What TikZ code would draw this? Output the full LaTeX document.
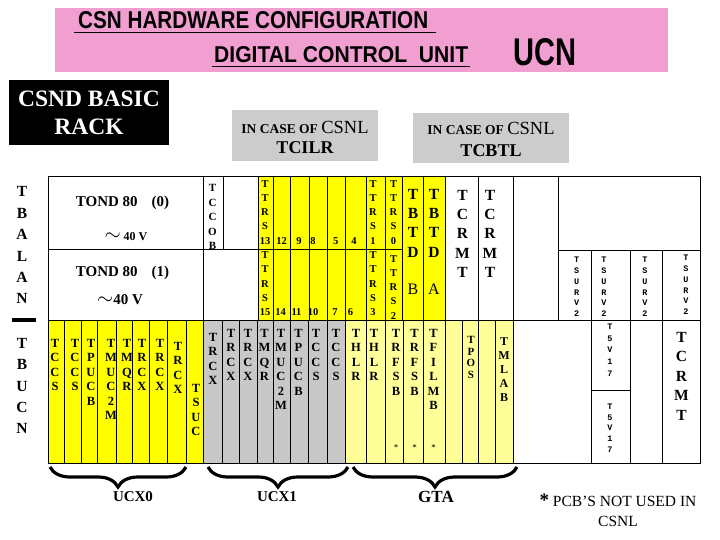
\documentclass[tikz,border=0pt]{standalone}
\usepackage{fontspec}
\usepackage{graphicx}
\setmainfont{Liberation Serif}
\newfontfamily\arialf{Liberation Sans}
\newfontfamily\monof{Liberation Mono}
\usetikzlibrary{decorations.pathreplacing}
\definecolor{pinkbg}{RGB}{241,158,208}
\definecolor{yel}{RGB}{255,255,0}
\definecolor{lyel}{RGB}{255,255,153}
\definecolor{grayc}{RGB}{200,200,200}
\definecolor{grayb}{RGB}{204,204,204}
\newcommand\fntA{\fontsize{12.5}{14.5}\selectfont\bfseries}
\newcommand\fntB{\fontsize{10.5}{14.3}\selectfont\bfseries}
\newcommand\fntC{\fontsize{15.5}{19.3}\selectfont\bfseries}
\newcommand\fntD{\fontsize{15.5}{21.4}\selectfont\bfseries}
\newcommand\fntM{\monof\fontsize{8.5}{10.8}\selectfont\bfseries}
\begin{document}
\begin{tikzpicture}[x=1pt,y=-1pt,
  cell/.style={draw=black, line width=0.8pt},
  stk/.style={align=center, inner sep=0pt, anchor=north},
  rA/.style={stk, font=\fntA},
  rB/.style={stk, font=\fntB},
  rC/.style={stk, font=\fntC},
  rD/.style={stk, font=\fntD},
  rM/.style={stk, font=\fntM},
  num/.style={inner sep=0pt, font=\fntB},
  bracestyle/.style={decorate, decoration={brace, mirror, amplitude=20pt}, line width=3.2pt},
  grplabel/.style={inner sep=0pt, font=\fontsize{15}{17}\selectfont\bfseries}
]
\useasboundingbox (0,0) rectangle (720,540);
\fill[white] (0,0) rectangle (720,540);

% banner
\fill[pinkbg] (55,8) rectangle (668,72);
\node[inner sep=0pt, anchor=south west] (title) at (78,29) {\resizebox{350pt}{17pt}{\arialf\bfseries CSN HARDWARE CONFIGURATION}};
\draw[line width=1.5pt] (74,32.5) -- (436,32.5);
\node[inner sep=0pt, anchor=south west] (dcu) at (214,63) {\resizebox{254pt}{16pt}{\arialf\bfseries DIGITAL CONTROL\ \ UNIT}};
\draw[line width=1.5pt] (212,66.5) -- (470,66.5);
\node[inner sep=0pt, anchor=south west] (ucn) at (513,66) {\resizebox{63pt}{27pt}{\arialf\bfseries UCN}};

% black box
\fill[black] (9,80) rectangle (169,145);
\node[inner sep=0pt, anchor=base, text=white, font=\fontsize{23.5}{25}\selectfont\bfseries] (rack1) at (89,107) {CSND BASIC};
\node[inner sep=0pt, anchor=base, text=white, font=\fontsize{23.5}{25}\selectfont\bfseries] (rack2) at (89,135) {RACK};

% gray boxes
\fill[grayb] (232,110) rectangle (378,160.7);
\fill[grayb] (413.3,112.7) rectangle (569,163.3);
\node[inner sep=0pt, anchor=base] (c1a) at (305,133.3) {{\fontsize{13.5}{15}\selectfont\bfseries IN CASE OF }{\fontsize{18.5}{20}\selectfont CSNL}};
\node[inner sep=0pt, anchor=base, font=\fontsize{18}{20}\selectfont\bfseries] (c1b) at (305,153.3) {TCILR};
\node[inner sep=0pt, anchor=base] (c2a) at (491,135) {{\fontsize{13.5}{15}\selectfont\bfseries IN CASE OF }{\fontsize{18.5}{20}\selectfont CSNL}};
\node[inner sep=0pt, anchor=base, font=\fontsize{18}{20}\selectfont\bfseries] (c2b) at (491,156.7) {TCBTL};

% fills of table
\fill[yel] (258.3,176.7) rectangle (445,320);
\fill[yel] (48,320) rectangle (203,463);
\fill[grayc] (203,320) rectangle (345.7,463);
\fill[lyel] (345.7,320) rectangle (513.3,463);

% grid
\draw[cell] (48,176.7) rectangle (700,463);
\draw[cell] (48,320) -- (700,320);
\draw[cell] (48,249) -- (402.3,249);
\draw[cell] (558.3,250) -- (700,250);
\foreach \x in {203,258.3,273.3,290,309,327.3,345.7,366.7,385,402.3,423.3,445,478.3,513.3,558.3}
  \draw[cell] (\x,176.7) -- (\x,320);
\draw[cell] (223.3,176.7) -- (223.3,249);
\foreach \x in {591.7,630,662}
  \draw[cell] (\x,250) -- (\x,320);
\foreach \x in {64.5,81.5,97,116.5,132.5,149.5,167.5,186,203,222.5,239,257,273.5,290.5,308,327,345.7,366.7,385,403,423.3,445,462.5,478.3,495,513.3,591.7,630,662}
  \draw[cell] (\x,320) -- (\x,463);
\draw[cell] (591.7,390) -- (630,390);

% left labels
\node[rD] (tbalan) at (22,186.5) {T\\B\\A\\L\\A\\N};
\fill[black] (12,318) rectangle (36,322);
\node[rD] (tbucn) at (22,338) {T\\B\\U\\C\\N};

% TOND
\node[inner sep=0pt, font=\fontsize{15}{18}\selectfont\bfseries] (tond0) at (122.5,203) {TOND 80\hspace{14pt}(0)};
\node[inner sep=0pt, font=\fontsize{12}{14}\selectfont\bfseries] (v0) at (126,237) {{\fontsize{21}{21}\selectfont$\sim$}\hspace{3pt}40 V};
\node[inner sep=0pt, font=\fontsize{15}{18}\selectfont\bfseries] (tond1) at (122.5,272.7) {TOND 80\hspace{14pt}(1)};
\node[inner sep=0pt, font=\fontsize{15}{18}\selectfont\bfseries] (v1) at (120,300) {{\fontsize{20}{20}\selectfont$\sim$}40 V};

% TCCOB
\node[stk, font=\fontsize{11}{14.5}\selectfont\bfseries] (tccob) at (212.5,184.5) {T\\C\\C\\O\\B};

% TTRS
\node[rB] (t13) at (265,180) {T\\T\\R\\S\\13};
\node[num] (n12) at (281.7,240.7) {12};
\node[num] (n9) at (299,240.7) {9};
\node[num] (n8) at (313,240.7) {8};
\node[num] (n5) at (335.7,240.7) {5};
\node[num] (n4) at (354,240.7) {4};
\node[rB] (t15) at (265,251.5) {T\\T\\R\\S\\15};
\node[num] (n14) at (280.5,311.7) {14};
\node[num] (n11) at (296.5,311.7) {11};
\node[num] (n10) at (313,311.7) {10};
\node[num] (n7) at (335,311.7) {7};
\node[num] (n6) at (350.5,311.7) {6};
\node[rB] (t1) at (373,180) {T\\T\\R\\S\\1};
\node[rB] (t0) at (393.5,180) {T\\T\\R\\S\\0};
\node[rB] (t3) at (373,251.5) {T\\T\\R\\S\\3};
\node[rB] (t2) at (393.5,255) {T\\T\\R\\S\\2};

% TBTD
\node[rC] (tbtdb) at (413,189) {T\\B\\T\\D};
\node[rC] (tbtda) at (434,189) {T\\B\\T\\D};
\node[inner sep=0pt, font=\fontsize{16}{18}\selectfont] (lb) at (413,289) {B};
\node[inner sep=0pt, font=\fontsize{16}{18}\selectfont] (la) at (434,289) {A};

% TCRMT upper
\node[rC] (cr1) at (462.5,190) {T\\C\\R\\M\\T};
\node[rC] (cr2) at (490,190) {T\\C\\R\\M\\T};

% TSURV
\node[rM] (sv1) at (576.7,257) {T\\S\\U\\R\\V\\2};
\node[rM] (sv2) at (604,257) {T\\S\\U\\R\\V\\2};
\node[rM] (sv3) at (645,257) {T\\S\\U\\R\\V\\2};
\node[rM] (sv4) at (686,255) {T\\S\\U\\R\\V\\2};

% row 3 yellow
\node[rA] (y1) at (55,339) {T\\C\\C\\S};
\node[rA] (y2) at (75,339) {T\\C\\C\\S};
\node[rA] (y3) at (91,339) {T\\P\\U\\C\\B};
\node[rA] (y4) at (111,339) {T\\M\\U\\C\\2\\M};
\node[rA] (y5) at (127,339) {T\\M\\Q\\R};
\node[rA] (y6) at (142,339) {T\\R\\C\\X};
\node[rA] (y7) at (160,339) {T\\R\\C\\X};
\node[rA] (y8) at (178,342) {T\\R\\C\\X};
\node[rA] (y9) at (196,384) {T\\S\\U\\C};

% row 3 gray
\node[rA] (g1) at (213,333) {T\\R\\C\\X};
\node[rA] (g2) at (231,329) {T\\R\\C\\X};
\node[rA] (g3) at (248,329) {T\\R\\C\\X};
\node[rA] (g4) at (264.5,329) {T\\M\\Q\\R};
\node[rA] (g5) at (281,329) {T\\M\\U\\C\\2\\M};
\node[rA] (g6) at (298.5,329) {T\\P\\U\\C\\B};
\node[rA] (g7) at (316,329) {T\\C\\C\\S};
\node[rA] (g8) at (336,329) {T\\C\\C\\S};

% row 3 light yellow
\node[rA] (l1) at (356,329) {T\\H\\L\\R};
\node[rA] (l2) at (374,329) {T\\H\\L\\R};
\node[rA] (l3) at (396,329) {T\\R\\F\\S\\B};
\node[rA] (l4) at (414.5,329) {T\\R\\F\\S\\B};
\node[rA] (l5) at (433.5,329) {T\\F\\I\\L\\M\\B};
\node[inner sep=0pt, font=\fontsize{9}{10}\selectfont] (s1) at (396,448) {*};
\node[inner sep=0pt, font=\fontsize{9}{10}\selectfont] (s2) at (414.5,448) {*};
\node[inner sep=0pt, font=\fontsize{9}{10}\selectfont] (s3) at (433.5,448) {*};
\node[stk, font=\fontsize{11}{11.7}\selectfont\bfseries] (tpos) at (471,336) {T\\P\\O\\S};
\node[stk, font=\fontsize{12}{14.1}\selectfont\bfseries] (tmlab) at (504,337.5) {T\\M\\L\\A\\B};

% T5V17 and TCRMT bottom
\node[stk, font=\monof\fontsize{8.5}{11.7}\selectfont\bfseries] (v17a) at (610,323.5) {T\\5\\V\\1\\7};
\node[stk, font=\monof\fontsize{8.5}{10.7}\selectfont\bfseries] (v17b) at (610,403.5) {T\\5\\V\\1\\7};
\node[stk, font=\fontsize{15.5}{19.5}\selectfont\bfseries] (cr3) at (681.5,332) {T\\C\\R\\M\\T};

% braces
\draw[bracestyle] (50,467) -- (186,467);
\draw[bracestyle] (208,467) -- (348,467);
\draw[bracestyle] (353,467) -- (517,467);
\node[grplabel] (ucx0) at (133,497) {UCX0};
\node[grplabel] (ucx1) at (277,497) {UCX1};
\node[grplabel, font=\fontsize{17}{19}\selectfont\bfseries] (gta) at (436,497) {GTA};

% note
\node[inner sep=0pt, font=\fontsize{15.5}{18}\selectfont] (note1) at (618,500) {{\fontsize{19}{19}\selectfont\bfseries *} PCB'S NOT USED IN};
\node[inner sep=0pt, font=\fontsize{15.5}{18}\selectfont] (note2) at (618,521) {CSNL};
\end{tikzpicture}
\end{document}
